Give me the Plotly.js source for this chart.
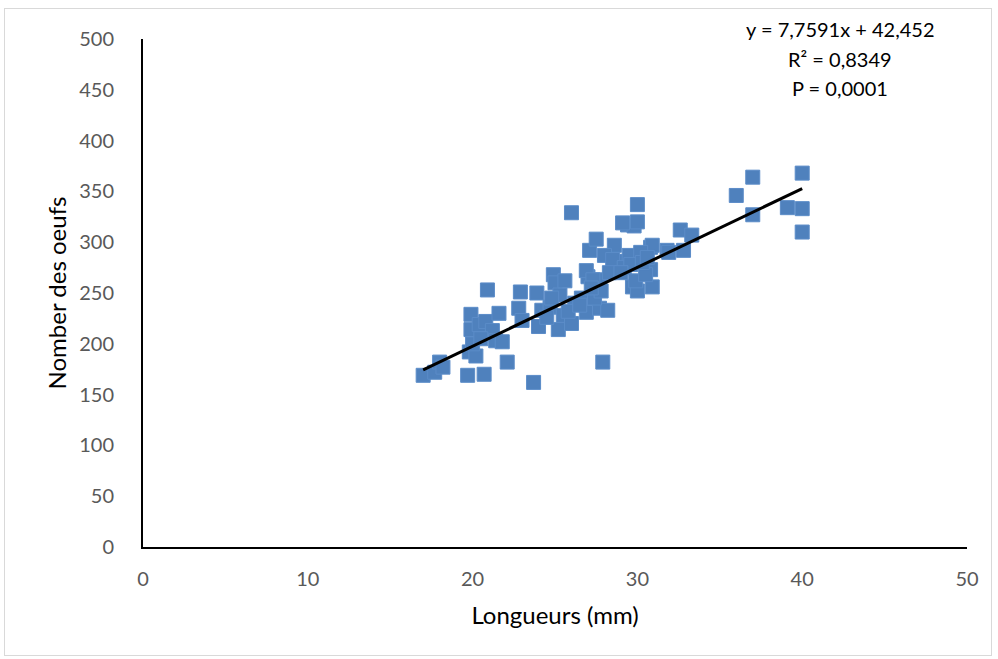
<!DOCTYPE html>
<html>
<head>
<meta charset="utf-8">
<script src="https://cdn.plot.ly/plotly-3.0.1.min.js"></script>
<style>
html,body{margin:0;padding:0;background:#fff;}
#frame{position:absolute;left:4px;top:8px;width:986px;height:646px;border:1px solid #d9d9d9;pointer-events:none;}
#chart{position:absolute;left:0;top:0;width:998px;height:659px;}
</style>
</head>
<body>
<div id="chart"></div>
<div id="frame"></div>
<script>
// Longueurs (mm)
const longueurs = [
  17, 17.7, 18, 18.2, 19.7, 20.7, 19.8, 20.2, 20.0, 19.9, 19.9, 20.4, 20.9, 20.8, 21.2, 21.4, 21.8, 21.6, 22.1, 20.5,
  22.9, 22.8, 23.0, 23.7, 23.9, 24.0, 24.2, 24.9, 25.0, 24.7, 25.2, 25.5, 26.0, 26.0, 25.3, 24.8, 25.6, 26.2, 25.8, 24.5,
  26.9, 27.0, 27.7, 27.7, 26.6, 27.1, 28.6, 28.0, 28.9, 26.9, 27.3, 28.2, 27.9, 27.5, 27.4, 26.5, 27.8, 28.5, 28.3, 27.2,
  29.4, 29.8, 30.0, 29.1, 30.0, 29.5, 29.7, 30.0, 30.8, 30.8, 30.9, 30.9, 29.2, 29.9, 30.2, 30.5, 29.6, 30.3, 29.0, 30.6,
  31.8, 32.6, 33.3, 32.8, 31.9, 36, 37, 37, 39.1, 40, 40, 40
];
// Nombre des oeufs
const oeufs = [
  169, 172, 182, 177, 169, 170, 192, 188, 200, 214, 229, 219, 253, 222, 213, 203, 202, 230, 182, 205,
  251, 235, 223, 162, 250, 217, 233, 268, 260, 236, 214, 228, 220, 329, 248, 245, 262, 240, 232, 226,
  231, 266, 263, 235, 245, 292, 297, 287, 281, 272, 263, 233, 182, 303, 245, 238, 252, 283, 270, 255,
  317, 316, 337, 319, 320, 287, 256, 252, 295, 273, 256, 297, 275, 262, 290, 268, 278, 280, 270, 285,
  292, 312, 307, 292, 290, 346, 364, 327, 334, 368, 333, 310
];
const slope = 7.7591;
const intercept = 42.452;
const xTicks = [0, 10, 20, 30, 40, 50];
const yTicks = [0, 50, 100, 150, 200, 250, 300, 350, 400, 450, 500];
const eqLines = ['y = 7,7591x + 42,452', 'R² = 0,8349', 'P = 0,0001'];

const xmin = Math.min(...longueurs), xmax = Math.max(...longueurs);
const trendX = [xmin, xmax];
const trendY = trendX.map(v => slope * v + intercept);

const font = 'Lato, "Open Sans", "Liberation Sans", sans-serif';

const data = [
  {
    x: longueurs, y: oeufs, type: 'scatter', mode: 'markers',
    marker: {symbol: 'square', size: 14, color: '#4f81bd', line: {color: '#5b8cc8', width: 1}},
    hoverinfo: 'x+y'
  },
  {
    x: trendX, y: trendY, type: 'scatter', mode: 'lines',
    line: {color: '#000000', width: 3}, hoverinfo: 'skip'
  }
];

const annotations = eqLines.map((t, i) => ({
  text: t, xref: 'paper', yref: 'paper',
  x: 0.846, y: 1.0 + (10 - 29.5 * i) / 508,
  xanchor: 'center', yanchor: 'middle', showarrow: false,
  font: {family: font, size: 20, color: '#000000'}
}));

const layout = {
  width: 998, height: 659,
  margin: {l: 143, r: 31, t: 39, b: 112},
  paper_bgcolor: '#ffffff', plot_bgcolor: '#ffffff',
  showlegend: false,
  xaxis: {
    range: [0, 50], tickvals: xTicks, ticktext: xTicks.map(String),
    showgrid: false, zeroline: false,
    showline: true, linecolor: '#000000', linewidth: 2,
    ticks: '', ticklabelstandoff: 13,
    tickfont: {family: font, size: 20, color: '#595959'},
    title: {text: 'Longueurs (mm)', font: {family: font, size: 24, color: '#000000'}, standoff: 18}
  },
  yaxis: {
    range: [0, 500], tickvals: yTicks, ticktext: yTicks.map(String),
    showgrid: false, zeroline: false,
    showline: true, linecolor: '#000000', linewidth: 2,
    ticks: '', ticklabelstandoff: 23,
    tickfont: {family: font, size: 20, color: '#595959'},
    title: {text: 'Nomber des oeufs', font: {family: font, size: 24, color: '#000000'}, standoff: 6}
  },
  annotations: annotations
};

Plotly.newPlot('chart', data, layout, {displayModeBar: false, staticPlot: true});
</script>
</body>
</html>
